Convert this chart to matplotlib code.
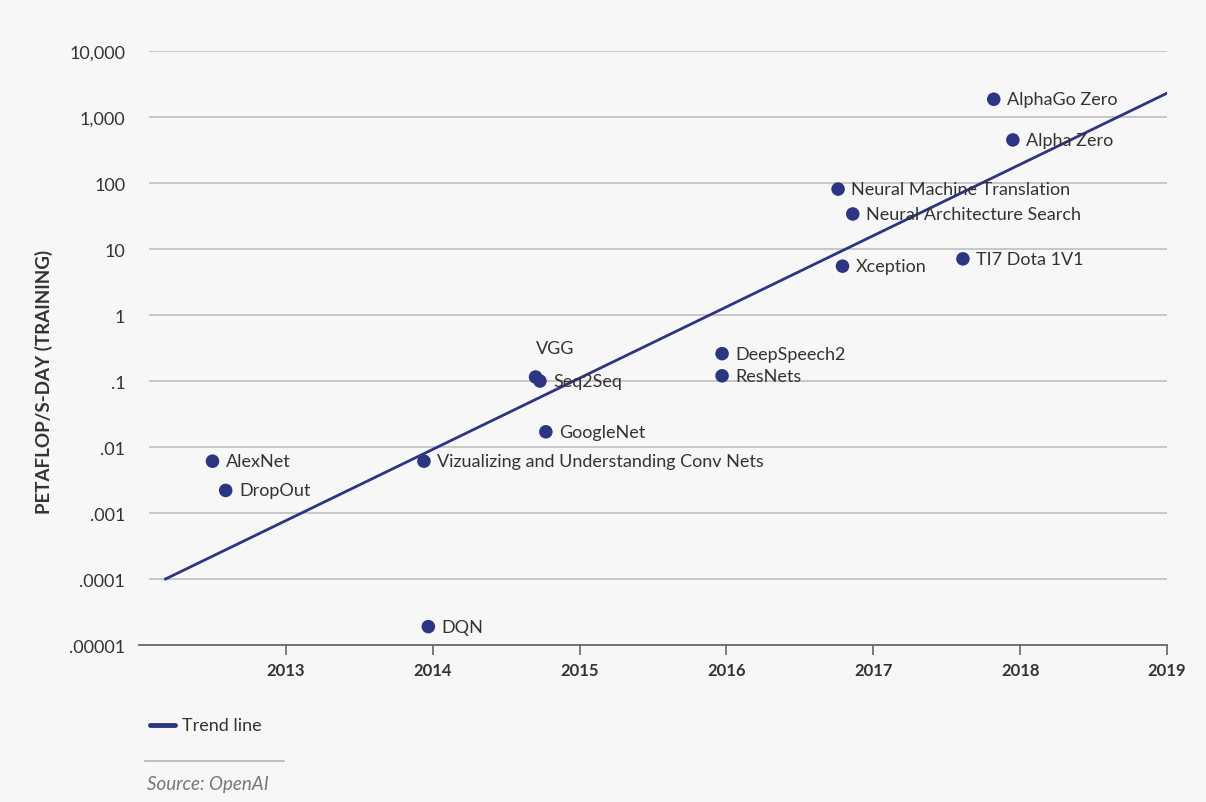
import matplotlib
matplotlib.use("Agg")
import matplotlib.pyplot as plt
from matplotlib.lines import Line2D

# ---- data ----
models = ["AlphaGo Zero", "Alpha Zero", "Neural Machine Translation", "Neural Architecture Search",
          "Xception", "TI7 Dota 1V1", "DeepSpeech2", "ResNets", "VGG", "Seq2Seq",
          "GoogleNet", "Vizualizing and Understanding Conv Nets", "AlexNet", "DropOut", "DQN"]
years = [2017.82, 2017.95, 2016.76, 2016.86, 2016.79, 2017.61, 2015.97, 2015.97,
         2014.70, 2014.73, 2014.77, 2013.94, 2012.50, 2012.59, 2013.97]
pfs_days = [1860, 450, 81, 34, 5.5, 7.1, 0.26, 0.12, 0.115, 0.10, 0.017, 0.0061,
            0.0061, 0.0022, 1.9e-5]
trend_years = [2012.18, 2019.0]
trend_values = [1e-4, 2300]
ytick_vals = [1e-5, 1e-4, 1e-3, 1e-2, 1e-1, 1, 10, 100, 1000, 10000]
ytick_labels = [".00001", ".0001", ".001", ".01", ".1", "1", "10", "100", "1,000", "10,000"]
xtick_vals = [2013, 2014, 2015, 2016, 2017, 2018, 2019]

NAVY = "#2c3582"
TXT = "#333333"
BG = "#f7f7f7"
plt.rcParams['font.family'] = ['Lato', 'DejaVu Sans']

fig = plt.figure(figsize=(12.06, 8.03), dpi=100, facecolor=BG)
ax = fig.add_axes([0.1153, 0.1955, 0.8524, 0.7397], facecolor=BG)
ax.set_yscale("log")
ax.set_xlim(2012, 2019)
ax.set_ylim(1e-5, 1e4)

# gridlines
for v in ytick_vals[1:]:
    ax.hlines(v, 2012.07, 2019, color="#c4c4c4", lw=1.3, zorder=1)

for s in ["top", "right", "left"]:
    ax.spines[s].set_visible(False)
ax.spines["bottom"].set_color("#666666")
ax.spines["bottom"].set_linewidth(1.3)

ax.set_yticks(ytick_vals)
ax.set_yticklabels(ytick_labels)
ax.minorticks_off()
ax.tick_params(axis="y", length=0, pad=10, labelsize=13, labelcolor=TXT)
ax.set_xticks(xtick_vals)
ax.set_xticklabels([str(x) for x in xtick_vals], fontweight="bold")
ax.tick_params(axis="x", direction="out", length=7, width=1.2, color="#666666",
               labelsize=12, labelcolor=TXT, pad=5)

ax.set_ylabel("PETAFLOP/S-DAY (TRAINING)", fontweight="bold", fontsize=13.5, color=TXT)
ax.yaxis.set_label_coords(-0.0837, 0.444)

# trend line
ax.plot(trend_years, trend_values, color=NAVY, lw=2.0, zorder=3)

# points
ax.scatter(years, pfs_days, s=95, color=NAVY, zorder=4, edgecolors="none")
for name, x, y in zip(models, years, pfs_days):
    if name == "VGG":
        ax.annotate(name, (x, y), xytext=(0, 21), textcoords="offset points",
                    ha="left", va="center", fontsize=13, color=TXT, zorder=5)
    else:
        ax.annotate(name, (x, y), xytext=(9.5, 0), textcoords="offset points",
                    ha="left", va="center", fontsize=13, color=TXT, zorder=5)

# legend
fig.add_artist(Line2D([150/1206, 175/1206], [1-726/803, 1-726/803], color=NAVY, lw=3.5,
                      solid_capstyle="round"))
fig.text(182/1206, 1-726/803, "Trend line", fontsize=13, color=TXT, va="center", ha="left")
fig.add_artist(Line2D([145/1206, 284/1206], [1-762/803, 1-762/803], color="#b5b5b5", lw=1.2))
fig.text(147/1206, 1-785/803, "Source: OpenAI", fontsize=13.5, color="#777777",
         style="italic", va="center", ha="left")

fig.savefig("out.png", dpi=100, facecolor=BG)
